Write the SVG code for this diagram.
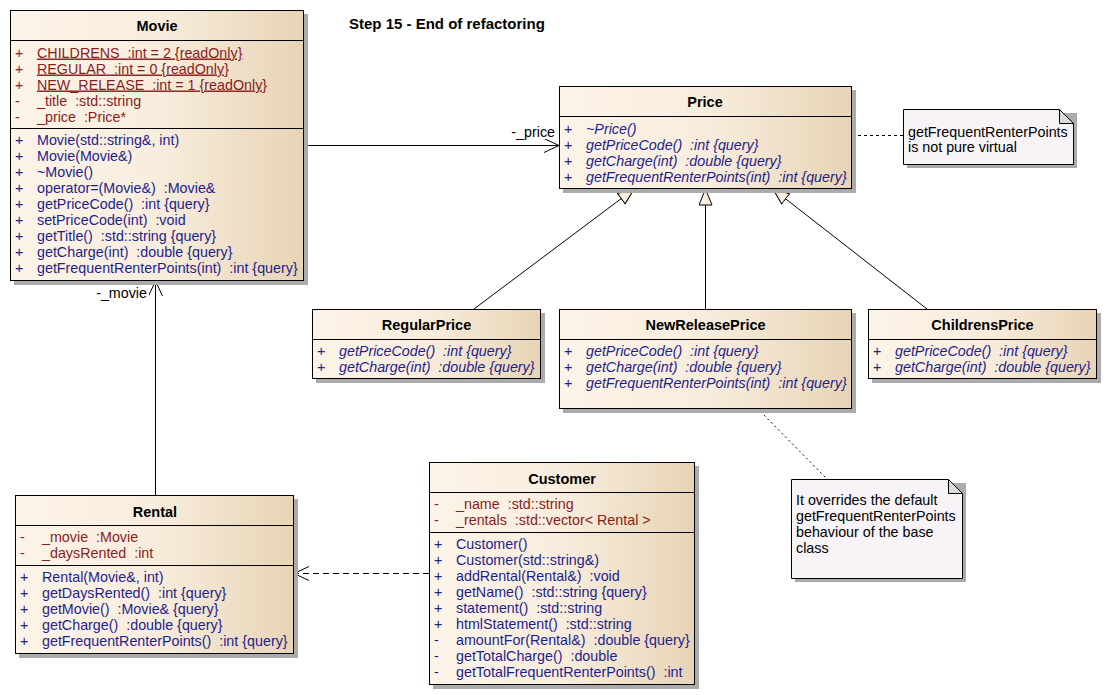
<svg xmlns="http://www.w3.org/2000/svg" width="1107" height="695" viewBox="0 0 1107 695" xml:space="preserve">
<style>
text{font-family:"Liberation Sans",Arial,sans-serif;font-size:14.3px;white-space:pre}
.title{font-weight:bold;text-anchor:middle;fill:#000;font-size:14.5px}
.attr{fill:#8B1C1C}
.meth{fill:#1E1E8C}
.abs{fill:#1E1E8C;font-style:italic}
.static{text-decoration:underline}
.box{fill:url(#cls);stroke:#000;stroke-width:1}
.shadow{fill:#ABABAB}
.div{stroke:#000;stroke-width:1}
.note{fill:#F7F3F7;stroke:#000;stroke-width:1}
.fold{fill:#DCDCDC;stroke:#000;stroke-width:1}
.ntext{fill:#000}
.lbl{fill:#000;text-anchor:end}
.conn{stroke:#000;stroke-width:1;fill:none}
</style>
<defs>
<linearGradient id="cls" x1="0" y1="0" x2="1" y2="0">
<stop offset="0" stop-color="#FCF4E8"/>
<stop offset="0.5" stop-color="#F8EDDD"/>
<stop offset="1" stop-color="#E7D4B6"/>
</linearGradient>
<marker id="open" markerUnits="userSpaceOnUse" markerWidth="17" markerHeight="16" refX="15" refY="7" orient="auto" viewBox="0 0 17 16">
<path d="M0,0 L15,7 L0,14" fill="none" stroke="#000" stroke-width="1"/>
</marker>
<marker id="gen" markerUnits="userSpaceOnUse" markerWidth="18" markerHeight="16" refX="16.5" refY="7" orient="auto" viewBox="0 0 18 16">
<path d="M0.5,0.5 L16.5,7 L0.5,13.5 Z" fill="#FAEEDD" stroke="#000" stroke-width="1"/>
</marker>
</defs>
<rect width="1107" height="695" fill="#fff"/>
<text x="349" y="29" style="font-weight:bold;font-size:15px">Step 15 - End of refactoring</text>

<g id="connectors">
<line class="conn" x1="303" y1="145.5" x2="559" y2="145.5" marker-end="url(#open)"/>
<line class="conn" x1="155.5" y1="495" x2="155.5" y2="281" marker-end="url(#open)"/>
<line class="conn" x1="429" y1="573.5" x2="294" y2="573.5" stroke-dasharray="6,4" marker-end="url(#open)"/>
<line class="conn" x1="474" y1="309" x2="634" y2="189" marker-end="url(#gen)"/>
<line class="conn" x1="705.5" y1="309" x2="705.5" y2="189" marker-end="url(#gen)"/>
<line class="conn" x1="927" y1="309" x2="773" y2="189" marker-end="url(#gen)"/>
<line class="conn" x1="852" y1="135.5" x2="903" y2="135.5" stroke-dasharray="3,3"/>
<line class="conn" x1="757" y1="408" x2="827" y2="479" stroke-dasharray="2,3"/>
<text class="lbl" x="555" y="137">-_price</text>
<text class="lbl" x="147" y="298">-_movie</text>
</g>

<g id="Movie">
<rect class="shadow" x="14" y="14" width="294" height="271"/>
<rect class="box" x="10.5" y="10.5" width="293" height="270"/>
<line class="div" x1="10.5" y1="40.5" x2="303.5" y2="40.5"/>
<line class="div" x1="10.5" y1="128.5" x2="303.5" y2="128.5"/>
<text class="title" x="157" y="31">Movie</text>
<text class="attr" x="15" y="57.5">+</text><text class="attr static" x="37" y="57.5">CHILDRENS  :int = 2 {readOnly}</text>
<text class="attr" x="15" y="73.5">+</text><text class="attr static" x="37" y="73.5">REGULAR  :int = 0 {readOnly}</text>
<text class="attr" x="15" y="89.5">+</text><text class="attr static" x="37" y="89.5">NEW_RELEASE  :int = 1 {readOnly}</text>
<text class="attr" x="15" y="105.5">-</text><text class="attr" x="37" y="105.5">_title  :std::string</text>
<text class="attr" x="15" y="121.5">-</text><text class="attr" x="37" y="121.5">_price  :Price*</text>
<text class="meth" x="15" y="145">+</text><text class="meth" x="37" y="145">Movie(std::string&amp;, int)</text>
<text class="meth" x="15" y="161">+</text><text class="meth" x="37" y="161">Movie(Movie&amp;)</text>
<text class="meth" x="15" y="177">+</text><text class="meth" x="37" y="177">~Movie()</text>
<text class="meth" x="15" y="193">+</text><text class="meth" x="37" y="193">operator=(Movie&amp;)  :Movie&amp;</text>
<text class="meth" x="15" y="209">+</text><text class="meth" x="37" y="209">getPriceCode()  :int {query}</text>
<text class="meth" x="15" y="225">+</text><text class="meth" x="37" y="225">setPriceCode(int)  :void</text>
<text class="meth" x="15" y="241">+</text><text class="meth" x="37" y="241">getTitle()  :std::string {query}</text>
<text class="meth" x="15" y="257">+</text><text class="meth" x="37" y="257">getCharge(int)  :double {query}</text>
<text class="meth" x="15" y="273">+</text><text class="meth" x="37" y="273">getFrequentRenterPoints(int)  :int {query}</text>
</g>

<g id="Price">
<rect class="shadow" x="563" y="90" width="293" height="103"/>
<rect class="box" x="559.5" y="86.5" width="292" height="102"/>
<line class="div" x1="559.5" y1="116.5" x2="851.5" y2="116.5"/>
<text class="title" x="705" y="107">Price</text>
<text class="meth" x="564" y="134">+</text><text class="abs" x="586" y="134">~Price()</text>
<text class="meth" x="564" y="150">+</text><text class="abs" x="586" y="150">getPriceCode()  :int {query}</text>
<text class="meth" x="564" y="166">+</text><text class="abs" x="586" y="166">getCharge(int)  :double {query}</text>
<text class="meth" x="564" y="182">+</text><text class="abs" x="586" y="182">getFrequentRenterPoints(int)  :int {query}</text>
</g>

<g id="Note1">
<path class="shadow" d="M907,113 H1077 V168 H907 Z"/>
<path class="note" d="M903.5,109.5 H1059.5 L1073.5,123.5 V164.5 H903.5 Z"/>
<path class="fold" d="M1059.5,109.5 V123.5 H1073.5 Z"/>
<text class="ntext" x="908" y="136.5">getFrequentRenterPoints</text>
<text class="ntext" x="908" y="151.5">is not pure virtual</text>
</g>

<g id="RegularPrice">
<rect class="shadow" x="316" y="313" width="229" height="70"/>
<rect class="box" x="312.5" y="309.5" width="228" height="69"/>
<line class="div" x1="312.5" y1="339.5" x2="540.5" y2="339.5"/>
<text class="title" x="426.5" y="330">RegularPrice</text>
<text class="meth" x="317" y="356">+</text><text class="abs" x="339" y="356">getPriceCode()  :int {query}</text>
<text class="meth" x="317" y="372">+</text><text class="abs" x="339" y="372">getCharge(int)  :double {query}</text>
</g>

<g id="NewReleasePrice">
<rect class="shadow" x="563" y="313" width="293" height="100"/>
<rect class="box" x="559.5" y="309.5" width="292" height="99"/>
<line class="div" x1="559.5" y1="339.5" x2="851.5" y2="339.5"/>
<text class="title" x="705.5" y="330">NewReleasePrice</text>
<text class="meth" x="564" y="356">+</text><text class="abs" x="586" y="356">getPriceCode()  :int {query}</text>
<text class="meth" x="564" y="372">+</text><text class="abs" x="586" y="372">getCharge(int)  :double {query}</text>
<text class="meth" x="564" y="388">+</text><text class="abs" x="586" y="388">getFrequentRenterPoints(int)  :int {query}</text>
</g>

<g id="ChildrensPrice">
<rect class="shadow" x="872" y="313" width="229" height="70"/>
<rect class="box" x="868.5" y="309.5" width="228" height="69"/>
<line class="div" x1="868.5" y1="339.5" x2="1096.5" y2="339.5"/>
<text class="title" x="982.5" y="330">ChildrensPrice</text>
<text class="meth" x="873" y="356">+</text><text class="abs" x="895" y="356">getPriceCode()  :int {query}</text>
<text class="meth" x="873" y="372">+</text><text class="abs" x="895" y="372">getCharge(int)  :double {query}</text>
</g>

<g id="Note2">
<path class="shadow" d="M795,483 H966 V582 H795 Z"/>
<path class="note" d="M791.5,479.5 H948.5 L962.5,493.5 V578.5 H791.5 Z"/>
<path class="fold" d="M948.5,479.5 V493.5 H962.5 Z"/>
<text class="ntext" x="796" y="505">It overrides the default</text>
<text class="ntext" x="796" y="521">getFrequentRenterPoints</text>
<text class="ntext" x="796" y="537">behaviour of the base</text>
<text class="ntext" x="796" y="553">class</text>
</g>

<g id="Rental">
<rect class="shadow" x="19" y="499" width="279" height="159"/>
<rect class="box" x="15.5" y="495.5" width="278" height="158"/>
<line class="div" x1="15.5" y1="525.5" x2="293.5" y2="525.5"/>
<line class="div" x1="15.5" y1="565.5" x2="293.5" y2="565.5"/>
<text class="title" x="155" y="517">Rental</text>
<text class="attr" x="20" y="542">-</text><text class="attr" x="42" y="542">_movie  :Movie</text>
<text class="attr" x="20" y="558">-</text><text class="attr" x="42" y="558">_daysRented  :int</text>
<text class="meth" x="20" y="582">+</text><text class="meth" x="42" y="582">Rental(Movie&amp;, int)</text>
<text class="meth" x="20" y="598">+</text><text class="meth" x="42" y="598">getDaysRented()  :int {query}</text>
<text class="meth" x="20" y="614">+</text><text class="meth" x="42" y="614">getMovie()  :Movie&amp; {query}</text>
<text class="meth" x="20" y="630">+</text><text class="meth" x="42" y="630">getCharge()  :double {query}</text>
<text class="meth" x="20" y="646">+</text><text class="meth" x="42" y="646">getFrequentRenterPoints()  :int {query}</text>
</g>

<g id="Customer">
<rect class="shadow" x="433" y="466" width="266" height="223"/>
<rect class="box" x="429.5" y="462.5" width="265" height="222"/>
<line class="div" x1="429.5" y1="492.5" x2="694.5" y2="492.5"/>
<line class="div" x1="429.5" y1="532.5" x2="694.5" y2="532.5"/>
<text class="title" x="562" y="483.5">Customer</text>
<text class="attr" x="434" y="509">-</text><text class="attr" x="456" y="509">_name  :std::string</text>
<text class="attr" x="434" y="525">-</text><text class="attr" x="456" y="525">_rentals  :std::vector&lt; Rental &gt;</text>
<text class="meth" x="434" y="549">+</text><text class="meth" x="456" y="549">Customer()</text>
<text class="meth" x="434" y="565">+</text><text class="meth" x="456" y="565">Customer(std::string&amp;)</text>
<text class="meth" x="434" y="581">+</text><text class="meth" x="456" y="581">addRental(Rental&amp;)  :void</text>
<text class="meth" x="434" y="597">+</text><text class="meth" x="456" y="597">getName()  :std::string {query}</text>
<text class="meth" x="434" y="613">+</text><text class="meth" x="456" y="613">statement()  :std::string</text>
<text class="meth" x="434" y="629">+</text><text class="meth" x="456" y="629">htmlStatement()  :std::string</text>
<text class="meth" x="434" y="645">-</text><text class="meth" x="456" y="645">amountFor(Rental&amp;)  :double {query}</text>
<text class="meth" x="434" y="661">-</text><text class="meth" x="456" y="661">getTotalCharge()  :double</text>
<text class="meth" x="434" y="677">-</text><text class="meth" x="456" y="677">getTotalFrequentRenterPoints()  :int</text>
</g>
</svg>
